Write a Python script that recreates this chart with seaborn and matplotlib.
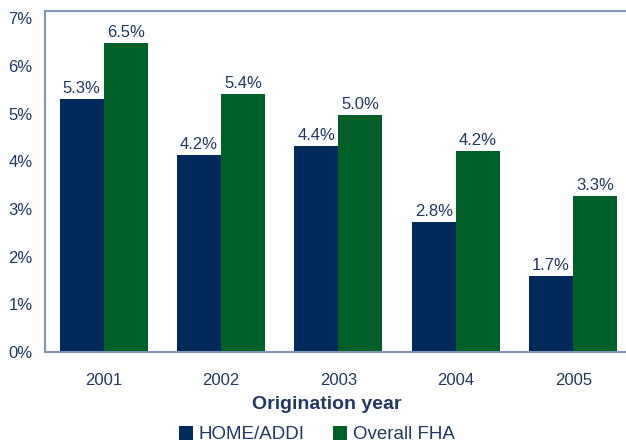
import numpy as np
import pandas as pd
import matplotlib
matplotlib.use("Agg")
import matplotlib.pyplot as plt
import seaborn as sns

# values
years = ["2001", "2002", "2003", "2004", "2005"]
home_addi = [5.30, 4.13, 4.32, 2.73, 1.59]
overall_fha = [6.48, 5.41, 4.97, 4.21, 3.27]
home_labels = ["5.3%", "4.2%", "4.4%", "2.8%", "1.7%"]
fha_labels = ["6.5%", "5.4%", "5.0%", "4.2%", "3.3%"]
series = ["HOME/ADDI", "Overall FHA"]

navy = "#002a5c"
green = "#006128"
text_col = "#1f3864"
spine_col = "#8095b5"

df = pd.DataFrame({
    "year": years * 2,
    "rate": home_addi + overall_fha,
    "series": [series[0]] * len(years) + [series[1]] * len(years),
})

sns.set_style("white")
plt.rcParams["font.family"] = ["Liberation Sans", "DejaVu Sans"]

fig = plt.figure(figsize=(6.26, 4.42), dpi=100)
ax = fig.add_axes([0.072, 0.204, 0.928, 0.771])

sns.barplot(data=df, x="year", y="rate", hue="series", order=years,
            hue_order=series, palette=[navy, green], width=0.75,
            saturation=1, linewidth=0, ax=ax, legend=True)

# bar labels
for cont, labs in zip(ax.containers, [home_labels, fha_labels]):
    ax.bar_label(cont, labels=labs, padding=2, fontsize=12, color=text_col)

ax.set_ylim(0, 7.15)
ax.set_xlim(-0.5, 4.45)
ax.set_yticks(range(0, 8))
ax.set_yticklabels([f"{i}%" for i in range(0, 8)])
ax.tick_params(axis="y", length=0, pad=9, labelsize=12, labelcolor=text_col)
ax.tick_params(axis="x", length=0, pad=15, labelsize=12, labelcolor=text_col)
ax.set_ylabel("")
ax.set_xlabel("Origination year", fontsize=14, fontweight="bold",
              color=text_col)
ax.xaxis.set_label_coords(0.485, -0.155, transform=ax.transAxes)
ax.xaxis.label.set_verticalalignment("center")

for side in ["left", "top", "bottom"]:
    ax.spines[side].set_color(spine_col)
    ax.spines[side].set_linewidth(1.5)
ax.spines["right"].set_visible(False)

leg = ax.legend(loc="center", bbox_to_anchor=(0.468, -0.243),
                ncol=2, frameon=False, fontsize=13.5, handlelength=0.75,
                handleheight=0.75, handletextpad=0.3, columnspacing=1.5,
                borderaxespad=0, borderpad=0)
for t in leg.get_texts():
    t.set_color(text_col)

fig.savefig("out.png", dpi=100)
